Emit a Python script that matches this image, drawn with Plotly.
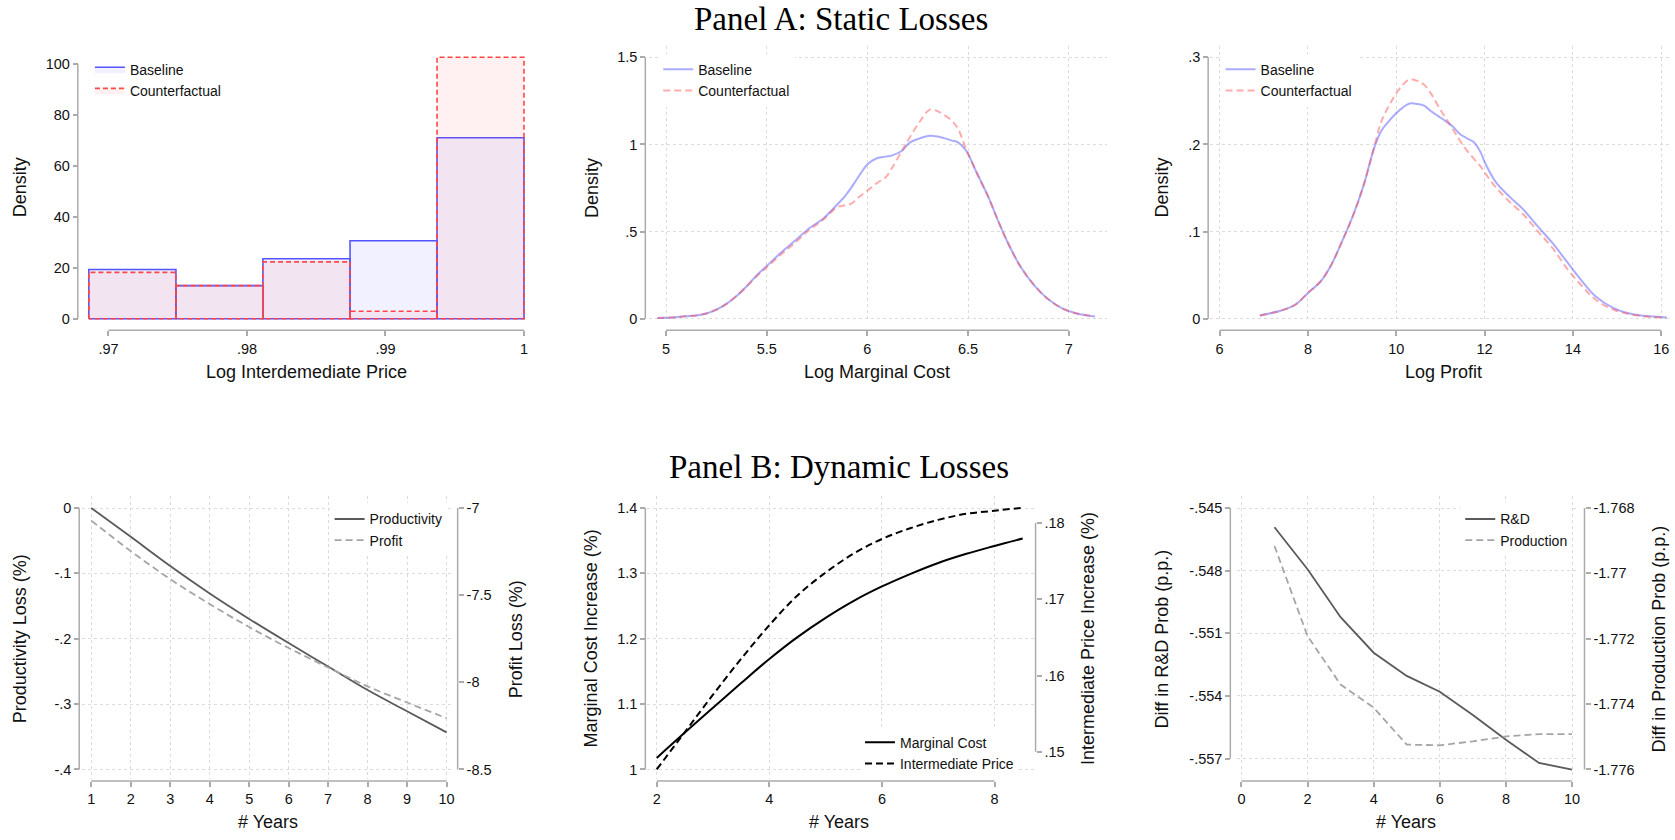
import plotly.graph_objects as go

W, H = 1675, 840

# ---------------- data ----------------
# Panel A, left: histogram of log intermediate price (density per bin)
price_bin_edges = [0.96858, 0.97487, 0.98115, 0.98744, 0.99372, 1.0]
price_density_base = [19.3, 13.0, 23.5, 30.6, 71.0]
price_density_cf = [18.2, 13.0, 22.3, 2.9, 102.6]

# Panel A, middle: kernel density of log marginal cost
mc_x = [4.957, 5.05, 5.10, 5.15, 5.20, 5.25, 5.30, 5.35, 5.40, 5.45, 5.50, 5.57,
        5.64, 5.71, 5.78, 5.85, 5.89, 5.92, 5.96, 6.00, 6.05, 6.09, 6.12, 6.17,
        6.21, 6.26, 6.31, 6.35, 6.38, 6.42, 6.45, 6.49, 6.54, 6.60, 6.65, 6.70,
        6.76, 6.83, 6.90, 6.97, 7.04, 7.13]
mc_dens_base = [0.004, 0.009, 0.014, 0.019, 0.030, 0.052, 0.085, 0.130, 0.186, 0.248,
                0.302, 0.378, 0.447, 0.518, 0.574, 0.655, 0.705, 0.752, 0.822, 0.885,
                0.922, 0.930, 0.936, 0.962, 1.010, 1.035, 1.050, 1.045, 1.036, 1.022,
                1.012, 0.965, 0.845, 0.700, 0.560, 0.430, 0.300, 0.190, 0.110, 0.058,
                0.030, 0.013]
mc_dens_cf = [0.004, 0.009, 0.014, 0.019, 0.030, 0.052, 0.085, 0.130, 0.184, 0.243,
              0.295, 0.368, 0.435, 0.508, 0.568, 0.640, 0.651, 0.660, 0.700, 0.735,
              0.780, 0.810, 0.860, 0.960, 1.040, 1.130, 1.200, 1.190, 1.170, 1.135,
              1.090, 0.975, 0.845, 0.700, 0.560, 0.430, 0.300, 0.190, 0.110, 0.058,
              0.030, 0.013]

# Panel A, right: kernel density of log profit
pr_x = [6.91, 7.40, 7.72, 8.00, 8.29, 8.53, 8.77, 9.01, 9.26, 9.50, 9.66, 9.82,
        9.98, 10.14, 10.30, 10.47, 10.63, 10.79, 10.95, 11.11, 11.28, 11.44, 11.60,
        11.76, 11.92, 12.00, 12.25, 12.57, 12.89, 13.21, 13.54, 13.86, 14.18, 14.51,
        14.91, 15.31, 15.72, 16.12]
pr_dens_base = [0.0038, 0.0095, 0.0163, 0.0296, 0.0430, 0.0620, 0.0885, 0.1170, 0.1530,
                0.1960, 0.2155, 0.2260, 0.2350, 0.2420, 0.2470, 0.2465, 0.2445, 0.2380,
                0.2325, 0.2270, 0.2205, 0.2120, 0.2070, 0.2025, 0.1900, 0.1800, 0.1570,
                0.1398, 0.1246, 0.1056, 0.0866, 0.0657, 0.0448, 0.0258, 0.0125, 0.0057,
                0.0027, 0.0015]
pr_dens_cf = [0.0038, 0.0095, 0.0163, 0.0296, 0.0430, 0.0620, 0.0885, 0.1170, 0.1530,
              0.1970, 0.2260, 0.2430, 0.2570, 0.2680, 0.2745, 0.2730, 0.2685, 0.2580,
              0.2440, 0.2310, 0.2175, 0.2045, 0.1930, 0.1835, 0.1740, 0.1680, 0.1510,
              0.1340, 0.1190, 0.1000, 0.0810, 0.0580, 0.0390, 0.0220, 0.0106, 0.0049,
              0.0023, 0.0011]

# Panel B, left: productivity and profit losses by horizon
years_b1 = [1, 2, 3, 4, 5, 6, 7, 8, 9, 10]
productivity_loss = [0.0, -0.044, -0.0886, -0.1306, -0.1696, -0.2066, -0.2425, -0.2785,
                     -0.3110, -0.3433]
profit_loss = [-7.072, -7.247, -7.408, -7.551, -7.683, -7.803, -7.915, -8.023, -8.116,
               -8.206]

# Panel B, middle: marginal cost and intermediate price increases
years_b2 = [2, 2.5, 3, 3.5, 4, 4.5, 5, 5.5, 6, 6.5, 7, 7.5, 8, 8.5]
mc_increase = [1.0177, 1.0565, 1.0945, 1.1322, 1.1690, 1.2025, 1.2320, 1.2580, 1.2800,
               1.2990, 1.3160, 1.3300, 1.3420, 1.3534]
price_increase = [0.1477, 0.1526, 0.1575, 0.1622, 0.1666, 0.1705, 0.1735, 0.1760, 0.1779,
                  0.1793, 0.1804, 0.1812, 0.1816, 0.1820]

# Panel B, right: change in R&D and production probabilities
years_b3 = [1, 2, 3, 4, 5, 6, 7, 8, 9, 10]
rd_prob_diff = [-0.54592, -0.54793, -0.55023, -0.55193, -0.55304, -0.55380, -0.55491,
                -0.55610, -0.55721, -0.55753]
prod_prob_diff = [-1.76916, -1.77192, -1.77340, -1.77411, -1.77524, -1.77526, -1.77514,
                  -1.77499, -1.77492, -1.77492]

# ---------------- styling ----------------
SANS = "Liberation Sans, Arial, Helvetica, sans-serif"
SERIF = "Liberation Serif, Times New Roman, serif"
AXC = "#ababab"
GRIDC = "#dcdcdc"
TXT = "#111111"
TICK_FONT = dict(family=SANS, size=14.5, color=TXT)
TITLE_FONT = dict(family=SANS, size=18, color=TXT)
LEG_FONT = dict(family=SANS, size=14, color=TXT)


def px_x(p):
    return p / W


def px_y(p):
    return 1 - p / H


def xaxis(dom, rng, pos_px, vals, text, grid=True):
    return dict(domain=[px_x(dom[0]), px_x(dom[1])], range=rng, anchor="free",
                position=px_y(pos_px), tickmode="array", tickvals=vals, ticktext=text,
                showgrid=grid, gridcolor=GRIDC, griddash="dot", gridwidth=1,
                zeroline=False, showline=False, ticks="outside", ticklen=5,
                tickwidth=1.5, tickcolor=AXC, tickfont=TICK_FONT, fixedrange=True)


def yaxis(dom, rng, pos_px, vals, text, grid=True, side="left", overlay=None):
    d = dict(domain=[px_y(dom[1]), px_y(dom[0])], range=rng, anchor="free",
             position=px_x(pos_px), side=side, tickmode="array", tickvals=vals,
             ticktext=text, showgrid=grid, gridcolor=GRIDC, griddash="dot", gridwidth=1,
             zeroline=False, showline=False, ticks="outside", ticklen=5, tickwidth=1.5,
             tickcolor=AXC, tickfont=TICK_FONT, fixedrange=True)
    if overlay:
        d["overlaying"] = overlay
    return d


shapes = []


def vline_axis(pos_px, yref, y0, y1):
    shapes.append(dict(type="line", xref="paper", yref=yref, x0=px_x(pos_px),
                       x1=px_x(pos_px), y0=y0, y1=y1, line=dict(color=AXC, width=1.5)))


def hline_axis(pos_px, xref, x0, x1):
    shapes.append(dict(type="line", xref=xref, yref="paper", x0=x0, x1=x1,
                       y0=px_y(pos_px), y1=px_y(pos_px), line=dict(color=AXC, width=1.5)))


def bar_outline(edges, heights):
    xs, ys = [], []
    for i, h in enumerate(heights):
        a, b = edges[i], edges[i + 1]
        xs += [a, a, b, b, a, None]
        ys += [0, h, h, 0, 0, None]
    return xs, ys


fig = go.Figure()

# ---- A1: histogram ----
bx, by = bar_outline(price_bin_edges, price_density_base)
fig.add_trace(go.Scatter(x=bx, y=by, mode="lines", fill="toself",
                         fillcolor="rgba(60,60,255,0.07)",
                         line=dict(color="rgb(85,85,255)", width=1.6),
                         name="Baseline", xaxis="x", yaxis="y", legend="legend"))
cx, cy = bar_outline(price_bin_edges, price_density_cf)
fig.add_trace(go.Scatter(x=cx, y=cy, mode="lines", fill="toself",
                         fillcolor="rgba(255,60,60,0.07)",
                         line=dict(color="rgb(255,70,70)", width=1.6, dash="5px,3px"),
                         name="Counterfactual", xaxis="x", yaxis="y", legend="legend"))

# ---- A2: marginal cost densities ----
fig.add_trace(go.Scatter(x=mc_x, y=mc_dens_base, mode="lines", line_shape="spline",
                         line=dict(color="rgba(90,90,255,0.5)", width=2),
                         name="Baseline", xaxis="x2", yaxis="y2", legend="legend2"))
fig.add_trace(go.Scatter(x=mc_x, y=mc_dens_cf, mode="lines", line_shape="spline",
                         line=dict(color="rgba(255,70,70,0.45)", width=2, dash="7px,4px"),
                         name="Counterfactual", xaxis="x2", yaxis="y2", legend="legend2"))

# ---- A3: profit densities ----
fig.add_trace(go.Scatter(x=pr_x, y=pr_dens_base, mode="lines", line_shape="spline",
                         line=dict(color="rgba(90,90,255,0.5)", width=2),
                         name="Baseline", xaxis="x3", yaxis="y3", legend="legend3"))
fig.add_trace(go.Scatter(x=pr_x, y=pr_dens_cf, mode="lines", line_shape="spline",
                         line=dict(color="rgba(255,70,70,0.45)", width=2, dash="7px,4px"),
                         name="Counterfactual", xaxis="x3", yaxis="y3", legend="legend3"))

# ---- B1: productivity / profit loss ----
fig.add_trace(go.Scatter(x=years_b1, y=productivity_loss, mode="lines", line_shape="spline",
                         line=dict(color="#5a5a5a", width=1.8),
                         name="Productivity", xaxis="x4", yaxis="y4", legend="legend4"))
fig.add_trace(go.Scatter(x=years_b1, y=profit_loss, mode="lines", line_shape="spline",
                         line=dict(color="#a5a5a5", width=1.8, dash="7px,4px"),
                         name="Profit", xaxis="x4", yaxis="y5", legend="legend4"))

# ---- B2: marginal cost / intermediate price ----
fig.add_trace(go.Scatter(x=years_b2, y=mc_increase, mode="lines", line_shape="spline",
                         line=dict(color="#000000", width=2),
                         name="Marginal Cost", xaxis="x5", yaxis="y6", legend="legend5"))
fig.add_trace(go.Scatter(x=years_b2, y=price_increase, mode="lines", line_shape="spline",
                         line=dict(color="#000000", width=2, dash="7px,4px"),
                         name="Intermediate Price", xaxis="x5", yaxis="y7",
                         legend="legend5"))

# ---- B3: R&D / production probability ----
fig.add_trace(go.Scatter(x=years_b3, y=rd_prob_diff, mode="lines",
                         line=dict(color="#5a5a5a", width=1.8),
                         name="R&amp;D", xaxis="x6", yaxis="y8", legend="legend6"))
fig.add_trace(go.Scatter(x=years_b3, y=prod_prob_diff, mode="lines",
                         line=dict(color="#a5a5a5", width=1.8, dash="7px,4px"),
                         name="Production", xaxis="x6", yaxis="y9", legend="legend6"))

# ---------------- axes ----------------
A_TOP, A_BOT, A_XLINE = 46.7, 322.7, 332.7
B_TOP, B_BOT, B_XLINE = 500.0, 785.0, 786.7

layout = dict(
    xaxis=xaxis((87.8, 528.8), [0.9685, 1.0003], A_XLINE, [0.97, 0.98, 0.99, 1.0],
                [".97", ".98", ".99", "1"], grid=False),
    yaxis=yaxis((A_TOP, A_BOT), [-0.662, 106.86], 77.9, [0, 20, 40, 60, 80, 100],
                ["0", "20", "40", "60", "80", "100"], grid=False),
    xaxis2=xaxis((649.3, 1108.2), [4.913, 7.1895], A_XLINE, [5, 5.5, 6, 6.5, 7],
                 ["5", "5.5", "6", "6.5", "7"]),
    yaxis2=yaxis((A_TOP, A_BOT), [-0.0097, 1.5627], 646.1, [0, 0.5, 1, 1.5],
                 ["0", ".5", "1", "1.5"]),
    xaxis3=xaxis((1211.5, 1672.0), [5.7829, 16.199], A_XLINE, [6, 8, 10, 12, 14, 16],
                 ["6", "8", "10", "12", "14", "16"]),
    yaxis3=yaxis((A_TOP, A_BOT), [-0.00194, 0.31253], 1209.6, [0, 0.1, 0.2, 0.3],
                 ["0", ".1", ".2", ".3"]),
    xaxis4=xaxis((82.0, 455.0), [0.7621, 10.2], B_XLINE, list(range(1, 11)),
                 [str(v) for v in range(1, 11)]),
    yaxis4=yaxis((B_TOP, B_BOT), [-0.41519, 0.01777], 79.3, [0, -0.1, -0.2, -0.3, -0.4],
                 ["0", "-.1", "-.2", "-.3", "-.4"]),
    yaxis5=yaxis((B_TOP, B_BOT), [-8.5570, -6.9333], 458.2, [-7, -7.5, -8, -8.5],
                 ["-7", "-7.5", "-8", "-8.5"], grid=False, side="right", overlay="y4"),
    xaxis5=xaxis((647.5, 1036.8), [1.8226, 8.7288], B_XLINE, [2, 4, 6, 8],
                 ["2", "4", "6", "8"]),
    yaxis6=yaxis((B_TOP, B_BOT), [0.98481, 1.41777], 646.1, [1, 1.1, 1.2, 1.3, 1.4],
                 ["1", "1.1", "1.2", "1.3", "1.4"]),
    yaxis7=yaxis((B_TOP, B_BOT), [0.146396, 0.183474], 1036.8, [0.15, 0.16, 0.17, 0.18],
                 [".15", ".16", ".17", ".18"], grid=False, side="right", overlay="y6"),
    xaxis6=xaxis((1238.0, 1580.0), [-0.148, 10.184], B_XLINE, [0, 2, 4, 6, 8, 10],
                 ["0", "2", "4", "6", "8", "10"]),
    yaxis8=yaxis((B_TOP, B_BOT), [-0.557999, -0.544444], 1231.8,
                 [-0.545, -0.548, -0.551, -0.554, -0.557],
                 ["-.545", "-.548", "-.551", "-.554", "-.557"]),
    yaxis9=yaxis((B_TOP, B_BOT), [-1.776304, -1.767645], 1586.4,
                 [-1.768, -1.770, -1.772, -1.774, -1.776],
                 ["-1.768", "-1.77", "-1.772", "-1.774", "-1.776"], grid=False,
                 side="right", overlay="y8"),
)

# axis lines spanning first to last tick
vline_axis(77.9, "y", 0, 100)
hline_axis(A_XLINE, "x", 0.97, 1.0)
vline_axis(646.1, "y2", 0, 1.5)
hline_axis(A_XLINE, "x2", 5, 7)
vline_axis(1209.6, "y3", 0, 0.3)
hline_axis(A_XLINE, "x3", 6, 16)
vline_axis(79.3, "y4", -0.4, 0)
vline_axis(458.2, "y5", -8.5, -7)
hline_axis(B_XLINE, "x4", 1, 10)
vline_axis(646.1, "y6", 1, 1.4)
vline_axis(1036.8, "y7", 0.15, 0.18)
hline_axis(B_XLINE, "x5", 2, 8)
vline_axis(1231.8, "y8", -0.557, -0.545)
vline_axis(1586.4, "y9", -1.776, -1.768)
hline_axis(B_XLINE, "x6", 0, 10)


# ---------------- legends ----------------
def legend_at(x_px, y_px):
    return dict(x=px_x(x_px), y=px_y(y_px), xanchor="left", yanchor="top",
                bgcolor="white", borderwidth=0, font=LEG_FONT, tracegroupgap=0,
                itemclick=False, itemdoubleclick=False)


layout.update(
    legend=legend_at(90, 54),
    legend2=legend_at(659, 54),
    legend3=legend_at(1222, 54),
    legend4=legend_at(330, 507),
    legend5=legend_at(861, 732),
    legend6=legend_at(1462, 507),
)

# ---------------- text ----------------
annotations = []


def label(text, x_px, y_px, font, angle=0):
    annotations.append(dict(text=text, x=px_x(x_px), y=px_y(y_px), xref="paper",
                            yref="paper", showarrow=False, xanchor="center",
                            yanchor="middle", textangle=angle, font=font))


label("Panel A: Static Losses", 842.5, 19, dict(family=SERIF, size=33, color="#000"))
label("Panel B: Dynamic Losses", 840.5, 470, dict(family=SERIF, size=33, color="#000"))

label("Density", 19.6, 189, TITLE_FONT, -90)
label("Log Interdemediate Price", 307.3, 375, TITLE_FONT)
label("Density", 592.1, 189, TITLE_FONT, -90)
label("Log Marginal Cost", 877.9, 375, TITLE_FONT)
label("Density", 1163.2, 189, TITLE_FONT, -90)
label("Log Profit", 1445.4, 375, TITLE_FONT)

label("Productivity Loss (%)", 19.6, 643.3, TITLE_FONT, -90)
label("Profit Loss (%)", 516.1, 643.3, TITLE_FONT, -90)
label("# Years", 267.9, 828, TITLE_FONT)
label("Marginal Cost Increase (%)", 591.4, 643.3, TITLE_FONT, -90)
label("Intermediate Price Increase (%)", 1088.6, 643.3, TITLE_FONT, -90)
label("# Years", 840.4, 828, TITLE_FONT)
label("Diff in R&amp;D Prob (p.p.)", 1163.2, 643.3, TITLE_FONT, -90)
label("Diff in Production Prob (p.p.)", 1660.7, 643.3, TITLE_FONT, -90)
label("# Years", 1407.9, 828, TITLE_FONT)

layout.update(
    width=W, height=H, margin=dict(l=0, r=0, t=0, b=0),
    paper_bgcolor="white", plot_bgcolor="white",
    showlegend=True, shapes=shapes, annotations=annotations,
    font=dict(family=SANS, color=TXT),
)
fig.update_layout(**layout)

fig.write_html("out.html", config=dict(displayModeBar=False))
